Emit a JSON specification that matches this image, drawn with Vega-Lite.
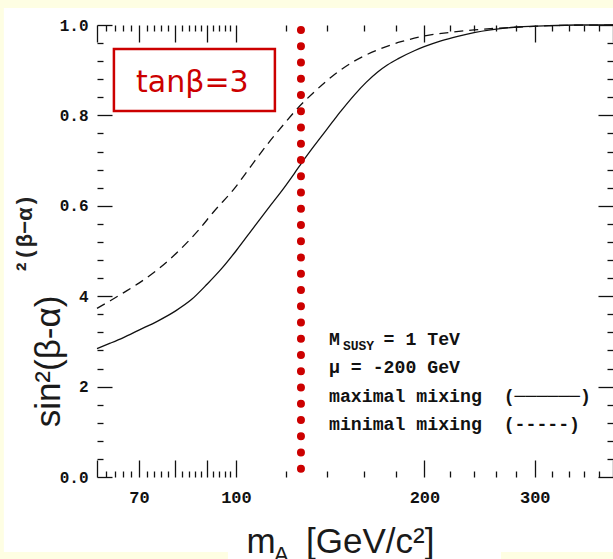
{
  "$schema": "https://vega.github.io/schema/vega-lite/v6.json",
  "width": 516,
  "height": 452,
  "autosize": {"type": "none"},
  "padding": {"left": 97, "top": 25, "right": 0, "bottom": 82},
  "background": "#FEFEE3",
  "config": {"view": {"stroke": "#222", "strokeWidth": 1.5, "fill": "white"}},
  "data": {"values": [
    {"mixing": "maximal", "m": 60, "s2": 0.284},
    {"mixing": "maximal", "m": 63, "s2": 0.296},
    {"mixing": "maximal", "m": 66, "s2": 0.308},
    {"mixing": "maximal", "m": 70, "s2": 0.325},
    {"mixing": "maximal", "m": 75, "s2": 0.345},
    {"mixing": "maximal", "m": 80, "s2": 0.367},
    {"mixing": "maximal", "m": 85, "s2": 0.393},
    {"mixing": "maximal", "m": 90, "s2": 0.427},
    {"mixing": "maximal", "m": 95, "s2": 0.462},
    {"mixing": "maximal", "m": 100, "s2": 0.5},
    {"mixing": "maximal", "m": 107, "s2": 0.554},
    {"mixing": "maximal", "m": 113.7, "s2": 0.602},
    {"mixing": "maximal", "m": 119.5, "s2": 0.641},
    {"mixing": "maximal", "m": 124, "s2": 0.672},
    {"mixing": "maximal", "m": 127.8, "s2": 0.698},
    {"mixing": "maximal", "m": 133.4, "s2": 0.733},
    {"mixing": "maximal", "m": 138.4, "s2": 0.762},
    {"mixing": "maximal", "m": 142.7, "s2": 0.786},
    {"mixing": "maximal", "m": 147.2, "s2": 0.81},
    {"mixing": "maximal", "m": 154.5, "s2": 0.845},
    {"mixing": "maximal", "m": 161.4, "s2": 0.873},
    {"mixing": "maximal", "m": 168.4, "s2": 0.896},
    {"mixing": "maximal", "m": 174.7, "s2": 0.912},
    {"mixing": "maximal", "m": 181.3, "s2": 0.925},
    {"mixing": "maximal", "m": 192.7, "s2": 0.943},
    {"mixing": "maximal", "m": 199.8, "s2": 0.952},
    {"mixing": "maximal", "m": 212.5, "s2": 0.965},
    {"mixing": "maximal", "m": 226, "s2": 0.975},
    {"mixing": "maximal", "m": 240, "s2": 0.983},
    {"mixing": "maximal", "m": 255, "s2": 0.989},
    {"mixing": "maximal", "m": 278, "s2": 0.995},
    {"mixing": "maximal", "m": 310, "s2": 0.998},
    {"mixing": "maximal", "m": 350, "s2": 1.0},
    {"mixing": "maximal", "m": 400, "s2": 1.0},
    {"mixing": "minimal", "m": 60, "s2": 0.373},
    {"mixing": "minimal", "m": 63, "s2": 0.39},
    {"mixing": "minimal", "m": 66.2, "s2": 0.408},
    {"mixing": "minimal", "m": 70, "s2": 0.429},
    {"mixing": "minimal", "m": 75, "s2": 0.459},
    {"mixing": "minimal", "m": 81, "s2": 0.5},
    {"mixing": "minimal", "m": 87, "s2": 0.545},
    {"mixing": "minimal", "m": 92.3, "s2": 0.588},
    {"mixing": "minimal", "m": 99.4, "s2": 0.638},
    {"mixing": "minimal", "m": 105.7, "s2": 0.688},
    {"mixing": "minimal", "m": 112.4, "s2": 0.737},
    {"mixing": "minimal", "m": 119.5, "s2": 0.782},
    {"mixing": "minimal", "m": 125.5, "s2": 0.816},
    {"mixing": "minimal", "m": 133.4, "s2": 0.852},
    {"mixing": "minimal", "m": 143.5, "s2": 0.89},
    {"mixing": "minimal", "m": 154.5, "s2": 0.92},
    {"mixing": "minimal", "m": 168.4, "s2": 0.945},
    {"mixing": "minimal", "m": 183.5, "s2": 0.963},
    {"mixing": "minimal", "m": 202.4, "s2": 0.977},
    {"mixing": "minimal", "m": 220.6, "s2": 0.984},
    {"mixing": "minimal", "m": 240, "s2": 0.989},
    {"mixing": "minimal", "m": 262, "s2": 0.993},
    {"mixing": "minimal", "m": 289, "s2": 0.996},
    {"mixing": "minimal", "m": 330, "s2": 0.999},
    {"mixing": "minimal", "m": 400, "s2": 1.0}
  ]},
  "resolve": {"axis": {"x": "independent", "y": "independent"}},
  "layer": [
    {
      "data": {"values": [{}]},
      "mark": {"type": "rect", "fill": "white", "clip": false},
      "encoding": {
        "x": {"datum": 42.6, "type": "quantitative", "scale": {"type": "log", "domain": [60, 400], "nice": false}, "axis": null},
        "x2": {"datum": 412},
        "y": {"datum": 1.0376, "type": "quantitative", "scale": {"domain": [0, 1], "nice": false, "zero": false}, "axis": null},
        "y2": {"datum": -0.166}
      }
    },
    {
      "data": {"values": [{}]},
      "mark": {"type": "rect", "fill": "white", "clip": false},
      "encoding": {
        "x": {"datum": 97.1, "type": "quantitative", "scale": {"type": "log", "domain": [60, 400], "nice": false}, "axis": null},
        "x2": {"datum": 265},
        "y": {"datum": -0.139, "type": "quantitative", "scale": {"domain": [0, 1], "nice": false, "zero": false}, "axis": null},
        "y2": {"datum": -0.19}
      }
    },
    {
      "transform": [{"filter": "datum.mixing === 'maximal'"}],
      "mark": {"type": "line", "color": "#111", "strokeWidth": 1.3, "interpolate": "monotone", "clip": false},
      "encoding": {
        "x": {"field": "m", "type": "quantitative", "scale": {"type": "log", "domain": [60, 400], "nice": false},
          "axis": {"orient": "bottom", "zindex": 1, "domain": false, "grid": false, "title": null,
            "values": [60,62,64,66,68,70,72,74,76,78,80,82,84,86,88,90,92,94,96,98,100,120,140,160,180,200,220,240,260,280,300,320,340,360,380,400],
            "tickSize": {"condition": {"test": "indexof([60,70,80,90,100,200,300,400], datum.value) >= 0", "value": -17}, "value": -6},
            "tickColor": "#111", "tickWidth": 1.3,
            "labelExpr": "indexof([70,100,200,300], datum.value) >= 0 ? format(datum.value, 'd') : ''",
            "labelFont": "Liberation Mono", "labelFontWeight": "bold", "labelFontSize": 17, "labelColor": "#111",
            "labelPadding": 29, "labelOverlap": false, "labelFlush": false, "labelBound": false}},
        "y": {"field": "s2", "type": "quantitative", "scale": {"domain": [0, 1], "nice": false, "zero": false},
          "axis": {"orient": "left", "zindex": 1, "domain": false, "grid": false, "title": null,
            "values": [0,0.04,0.08,0.12,0.16,0.2,0.24,0.28,0.32,0.36,0.4,0.44,0.48,0.52,0.56,0.6,0.64,0.68,0.72,0.76,0.8,0.84,0.88,0.92,0.96,1],
            "tickSize": {"condition": {"test": "abs(datum.value*5 - round(datum.value*5)) < 0.01", "value": -15}, "value": -6},
            "tickColor": "#111", "tickWidth": 1.3,
            "labelExpr": "datum.value > 0.99 ? '1.0' : abs(datum.value-0.8) < 0.001 ? '0.8' : abs(datum.value-0.6) < 0.001 ? '0.6' : abs(datum.value-0.4) < 0.001 ? '4' : abs(datum.value-0.2) < 0.001 ? '2' : datum.value < 0.001 ? '0.0' : ''",
            "labelFont": "Liberation Mono", "labelFontWeight": "bold", "labelFontSize": 16, "labelColor": "#111",
            "labelPadding": 24, "labelOverlap": false, "labelFlush": false, "labelBound": false}}
      }
    },
    {
      "transform": [{"filter": "datum.mixing === 'minimal'"}],
      "mark": {"type": "line", "color": "#111", "strokeWidth": 1.3, "strokeDash": [9, 6], "interpolate": "monotone", "clip": false},
      "encoding": {
        "x": {"field": "m", "type": "quantitative", "scale": {"type": "log", "domain": [60, 400], "nice": false},
          "axis": {"orient": "top", "zindex": 1, "domain": false, "grid": false, "title": null, "labels": false,
            "values": [60,62,64,66,68,70,72,74,76,78,80,82,84,86,88,90,92,94,96,98,100,120,140,160,180,200,220,240,260,280,300,320,340,360,380,400],
            "tickSize": {"condition": {"test": "indexof([60,70,80,90,100,200,300,400], datum.value) >= 0", "value": -17}, "value": -6},
            "tickColor": "#111", "tickWidth": 1.3}},
        "y": {"field": "s2", "type": "quantitative", "scale": {"domain": [0, 1], "nice": false, "zero": false},
          "axis": {"orient": "right", "zindex": 1, "domain": false, "grid": false, "title": null, "labels": false,
            "values": [0,0.04,0.08,0.12,0.16,0.2,0.24,0.28,0.32,0.36,0.4,0.44,0.48,0.52,0.56,0.6,0.64,0.68,0.72,0.76,0.8,0.84,0.88,0.92,0.96,1],
            "tickSize": {"condition": {"test": "abs(datum.value*5 - round(datum.value*5)) < 0.01", "value": -15}, "value": -6},
            "tickColor": "#111", "tickWidth": 1.3}}
      }
    },
    {
      "data": {"values": [{}]},
      "mark": {"type": "rule", "color": "#cc0000", "strokeWidth": 8, "strokeDash": [0.1, 16.15], "strokeCap": "round", "clip": false},
      "encoding": {
        "x": {"datum": 127, "type": "quantitative", "scale": {"type": "log", "domain": [60, 400], "nice": false}, "axis": null},
        "y": {"datum": 0.989, "type": "quantitative", "scale": {"domain": [0, 1], "nice": false, "zero": false}, "axis": null},
        "y2": {"datum": 0.018}
      }
    },
    {
      "data": {"values": [{}]},
      "mark": {"type": "rect", "fill": "white", "stroke": "#cc0000", "strokeWidth": 2.5, "clip": false},
      "encoding": {
        "x": {"datum": 63.85, "type": "quantitative", "scale": {"type": "log", "domain": [60, 400], "nice": false}, "axis": null},
        "x2": {"datum": 115.4},
        "y": {"datum": 0.9469, "type": "quantitative", "scale": {"domain": [0, 1], "nice": false, "zero": false}, "axis": null},
        "y2": {"datum": 0.8097}
      }
    },
    {
      "data": {"values": [{}]},
      "mark": {"type": "text", "text": "tanβ=3", "font": "DejaVu Sans", "fontSize": 30, "color": "#cc0000", "align": "center", "baseline": "alphabetic", "clip": false},
      "encoding": {
        "x": {"datum": 85.2, "type": "quantitative", "scale": {"type": "log", "domain": [60, 400], "nice": false}, "axis": null},
        "y": {"datum": 0.8518, "type": "quantitative", "scale": {"domain": [0, 1], "nice": false, "zero": false}, "axis": null}
      }
    },
    {
      "data": {"values": [{}]},
      "mark": {"type": "text", "text": ["M\u00a0\u00a0\u00a0\u00a0=\u00a01\u00a0TeV", "μ\u00a0=\u00a0-200\u00a0GeV", "maximal\u00a0mixing\u00a0\u00a0(──────)", "minimal\u00a0mixing\u00a0\u00a0(-----)"], "lineHeight": 28.3, "font": "Liberation Mono", "fontWeight": "bold", "fontSize": 18.2, "color": "#111", "align": "left", "baseline": "alphabetic", "clip": false},
      "encoding": {
        "x": {"datum": 140.8, "type": "quantitative", "scale": {"type": "log", "domain": [60, 400], "nice": false}, "axis": null},
        "y": {"datum": 0.292, "type": "quantitative", "scale": {"domain": [0, 1], "nice": false, "zero": false}, "axis": null}
      }
    },
    {
      "data": {"values": [{}]},
      "mark": {"type": "text", "text": "SUSY", "font": "Liberation Mono", "fontWeight": "bold", "fontSize": 13, "color": "#111", "align": "left", "baseline": "alphabetic", "clip": false},
      "encoding": {
        "x": {"datum": 148.2, "type": "quantitative", "scale": {"type": "log", "domain": [60, 400], "nice": false}, "axis": null},
        "y": {"datum": 0.281, "type": "quantitative", "scale": {"domain": [0, 1], "nice": false, "zero": false}, "axis": null}
      }
    },
    {
      "data": {"values": [{}]},
      "mark": {"type": "text", "text": "²(β−α)", "font": "Liberation Mono", "fontWeight": "bold", "fontSize": 22, "color": "#222", "angle": 270, "align": "center", "baseline": "middle", "clip": false},
      "encoding": {
        "x": {"datum": 46.0, "type": "quantitative", "scale": {"type": "log", "domain": [60, 400], "nice": false}, "axis": null},
        "y": {"datum": 0.5376, "type": "quantitative", "scale": {"domain": [0, 1], "nice": false, "zero": false}, "axis": null}
      }
    },
    {
      "data": {"values": [{}]},
      "mark": {"type": "text", "text": "sin²(β-α)", "font": "Liberation Sans", "fontSize": 35, "color": "#1a1a1a", "angle": 270, "align": "center", "baseline": "middle", "clip": false},
      "encoding": {
        "x": {"datum": 50.3, "type": "quantitative", "scale": {"type": "log", "domain": [60, 400], "nice": false}, "axis": null},
        "y": {"datum": 0.2555, "type": "quantitative", "scale": {"domain": [0, 1], "nice": false, "zero": false}, "axis": null}
      }
    },
    {
      "data": {"values": [{}]},
      "mark": {"type": "text", "text": "m", "font": "Liberation Sans", "fontSize": 35, "color": "#1a1a1a", "align": "left", "baseline": "alphabetic", "clip": false},
      "encoding": {
        "x": {"datum": 104.0, "type": "quantitative", "scale": {"type": "log", "domain": [60, 400], "nice": false}, "axis": null},
        "y": {"datum": -0.1681, "type": "quantitative", "scale": {"domain": [0, 1], "nice": false, "zero": false}, "axis": null}
      }
    },
    {
      "data": {"values": [{}]},
      "mark": {"type": "text", "text": "A", "font": "Liberation Sans", "fontSize": 22, "color": "#1a1a1a", "align": "left", "baseline": "alphabetic", "clip": false},
      "encoding": {
        "x": {"datum": 115.0, "type": "quantitative", "scale": {"type": "log", "domain": [60, 400], "nice": false}, "axis": null},
        "y": {"datum": -0.1881, "type": "quantitative", "scale": {"domain": [0, 1], "nice": false, "zero": false}, "axis": null}
      }
    },
    {
      "data": {"values": [{}]},
      "mark": {"type": "text", "text": "[GeV/c²]", "font": "Liberation Sans", "fontSize": 35, "color": "#1a1a1a", "align": "left", "baseline": "alphabetic", "clip": false},
      "encoding": {
        "x": {"datum": 129.4, "type": "quantitative", "scale": {"type": "log", "domain": [60, 400], "nice": false}, "axis": null},
        "y": {"datum": -0.1681, "type": "quantitative", "scale": {"domain": [0, 1], "nice": false, "zero": false}, "axis": null}
      }
    }
  ]
}
